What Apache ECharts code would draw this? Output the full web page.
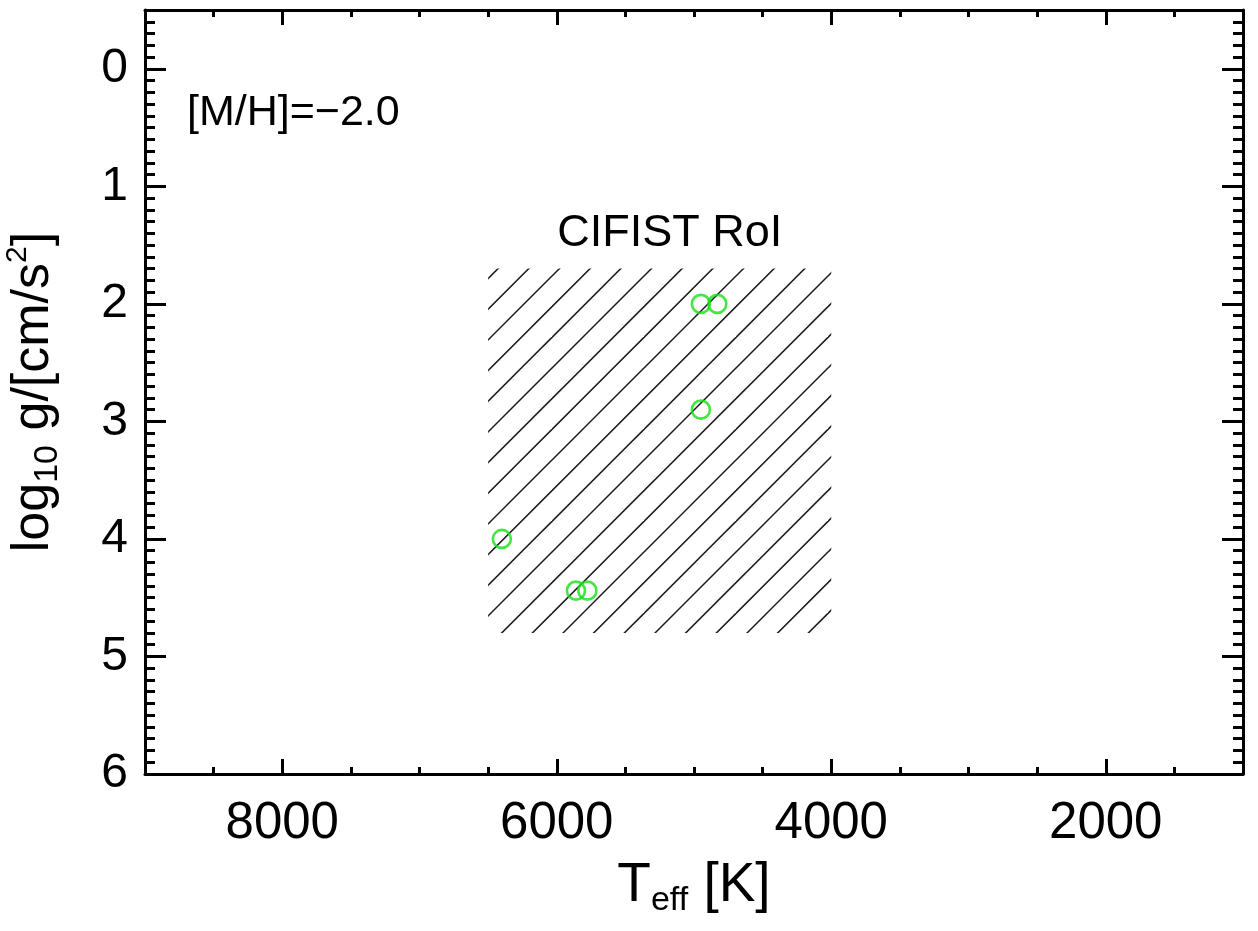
<!DOCTYPE html>
<html>
<head>
<meta charset="utf-8">
<script src="https://cdn.jsdelivr.net/npm/echarts@6/dist/echarts.min.js"></script>
<style>
  html, body { margin: 0; padding: 0; background: #fff; }
  #chart { width: 1258px; height: 931px; }
</style>
</head>
<body>
<div id="chart"></div>
<script>
// Stars: effective temperature [K] and surface gravity log g
const teff = [6400, 5860, 5777, 4950, 4950, 4830];
const logg = [4.0, 4.44, 4.44, 2.9, 2.0, 2.0];

// CIFIST region of interest (Teff range, log g range)
const roiTeff = [6500, 4000];
const roiLogg = [1.7, 4.8];

// Axis ranges and tick values
const teffRange = [1000, 9000];
const teffMajor = [2000, 4000, 6000, 8000];
const teffMinorStep = 500;
const loggRange = [-0.5, 6];
const loggMajor = [0, 1, 2, 3, 4, 5, 6];
const loggMinorStep = 0.1;

const metallicity = '[M/H]=\u22122.0';
const roiName = 'CIFIST RoI';

// Diagonal hatch tile
function hatchTile() {
  const size = 92, step = size / 3;
  const c = document.createElement('canvas');
  c.width = size; c.height = size;
  const g = c.getContext('2d');
  g.strokeStyle = '#1a1a1a';
  g.lineWidth = 1.5;
  for (let k = -2; k <= 8; k++) {
    const s = k * step;
    g.beginPath();
    g.moveTo(s + 40, -40);
    g.lineTo(s - 140, 140);
    g.stroke();
  }
  return c;
}

const font = 'Liberation Sans, Arial, Helvetica, sans-serif';
const chart = echarts.init(document.getElementById('chart'));

function xAxisDef(pos, major, withLabel) {
  return {
    type: 'value', position: pos, inverse: true,
    min: teffRange[0], max: teffRange[1],
    interval: major ? undefined : teffMinorStep,
    axisLine: { show: major, onZero: false, lineStyle: { color: '#000', width: 3 } },
    axisTick: major
      ? { show: true, inside: true, length: 15, customValues: teffMajor, lineStyle: { color: '#000', width: 3 } }
      : { show: true, inside: true, length: 7, lineStyle: { color: '#000', width: 3 } },
    axisLabel: withLabel
      ? { show: true, customValues: teffMajor, formatter: v => String(v), fontSize: 51, color: '#000', fontFamily: font, margin: 24 }
      : { show: false },
    splitLine: { show: false }
  };
}

function yAxisDef(pos, major, withLabel) {
  return {
    type: 'value', position: pos, inverse: true,
    min: loggRange[0], max: loggRange[1],
    interval: major ? undefined : loggMinorStep,
    axisLine: { show: major, onZero: false, lineStyle: { color: '#000', width: 3 } },
    axisTick: major
      ? { show: true, inside: true, length: 21, customValues: loggMajor, lineStyle: { color: '#000', width: 3 } }
      : { show: true, inside: true, length: 10, lineStyle: { color: '#000', width: 3 } },
    axisLabel: withLabel
      ? { show: true, customValues: loggMajor, formatter: v => String(v), fontSize: 48, color: '#000', fontFamily: font, margin: 17 }
      : { show: false },
    splitLine: { show: false }
  };
}

const xBottom = xAxisDef('bottom', true, true);
xBottom.name = 'T{sub|eff} [K]';
xBottom.nameLocation = 'middle';
xBottom.nameGap = 75;
xBottom.nameTextStyle = {
  fontSize: 55, color: '#000', fontFamily: font, lineHeight: 64,
  rich: { sub: { fontSize: 34, color: '#000', fontFamily: font, verticalAlign: 'bottom', lineHeight: 64, padding: [15, 0, 0, 0] } }
};

const yLeft = yAxisDef('left', true, true);
yLeft.name = 'log{sub|10} g/[cm/s{sup|2}]';
yLeft.nameLocation = 'middle';
yLeft.nameGap = 80;
yLeft.nameTextStyle = {
  fontSize: 52, color: '#000', fontFamily: font, lineHeight: 62,
  rich: {
    sub: { fontSize: 34, color: '#000', fontFamily: font, verticalAlign: 'bottom', lineHeight: 62, padding: [12, 0, 0, 0] },
    sup: { fontSize: 30, color: '#000', fontFamily: font, verticalAlign: 'top', lineHeight: 62, padding: [0, 0, 18, 0] }
  }
};

chart.setOption({
  animation: false,
  backgroundColor: '#fff',
  grid: { left: 145, right: 15, top: 10, bottom: 157, containLabel: false, outerBoundsMode: 'none' },
  xAxis: [xBottom, xAxisDef('bottom', false, false), xAxisDef('top', true, false), xAxisDef('top', false, false)],
  yAxis: [yLeft, yAxisDef('left', false, false), yAxisDef('right', true, false), yAxisDef('right', false, false)],
  graphic: [{
    type: 'text', left: 187, top: 92,
    style: { text: metallicity, fontSize: 43, fill: '#000', fontFamily: font }
  }],
  series: [{
    type: 'scatter',
    xAxisIndex: 0, yAxisIndex: 0,
    data: teff.map((t, i) => [t, logg[i]]),
    symbol: 'circle', symbolSize: 18,
    itemStyle: { color: 'rgba(0,0,0,0)', borderColor: '#14e014', borderWidth: 2.6 },
    z: 5,
    markArea: {
      silent: true,
      itemStyle: { color: { image: hatchTile(), repeat: 'repeat' }, borderWidth: 0 },
      label: {
        show: true, position: 'top', distance: 12, offset: [10, 0],
        formatter: roiName, fontSize: 45, color: '#000', fontFamily: font
      },
      data: [[{ coord: [roiTeff[0], roiLogg[0]] }, { coord: [roiTeff[1], roiLogg[1]] }]]
    }
  }]
});
</script>
</body>
</html>
